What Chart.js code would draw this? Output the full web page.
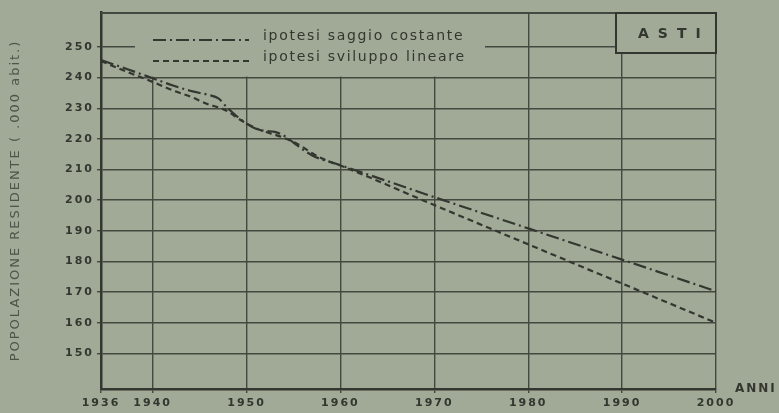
<!DOCTYPE html>
<html>
<head>
<meta charset="utf-8">
<script src="https://cdn.jsdelivr.net/npm/chart.js@4.4.1/dist/chart.umd.min.js"></script>
<style>
  html, body { margin: 0; padding: 0; background: #a1a997; }
  #wrap { width: 779px; height: 413px; position: relative; }
</style>
</head>
<body>
<div id="wrap"><canvas id="grafico"></canvas></div>
<script>
const SFONDO = '#a1a997';
const INCHIOSTRO = '#33372f';
const GRIGLIA = '#444940';
const FONT = "'DejaVu Sans', sans-serif";

// anni delle osservazioni / proiezioni
const anni = [1936, 1938, 1940, 1942, 1944, 1946, 1947, 1948, 1949, 1950, 1951, 1952,
  1953, 1954, 1955, 1956, 1957, 1958, 1959, 1960, 1970, 1980, 1990, 2000];

// popolazione residente (migliaia di abitanti)
const saggioCostante = [245.7, 242.8, 239.8, 237.6, 235.7, 234.3, 233.2, 230.0, 227.3, 225.0, 223.3, 222.6,
  222.3, 221.0, 218.8, 216.5, 214.6, 213.3, 212.4, 211.4, 201.0, 190.8, 180.6, 170.3];
const sviluppoLineare = [245.4, 241.9, 238.6, 236.0, 233.8, 231.2, 230.3, 229.0, 226.9, 225.0, 223.5, 222.3,
  221.4, 220.3, 219.0, 217.3, 215.3, 213.7, 212.4, 211.3, 198.4, 185.6, 172.8, 160.0];

const tickAnni = [1936, 1940, 1950, 1960, 1970, 1980, 1990, 2000];
const tickPop = [150, 160, 170, 180, 190, 200, 210, 220, 230, 240, 250];

// asse degli anni: il primo intervallo (1936-1940) e' disegnato allargato come nell'originale
class AnniScale extends Chart.LinearScale {
  getPixelForValue(value) {
    const rif = tickAnni[1];
    if (value < rif) {
      const p = super.getPixelForValue(rif);
      return this.left + (value - tickAnni[0]) / (rif - tickAnni[0]) * (p - this.left);
    }
    return super.getPixelForValue(value);
  }
}
AnniScale.id = 'anni';
AnniScale.defaults = Chart.LinearScale.defaults;
Chart.register(AnniScale);

const cornice = {
  id: 'cornice',
  beforeDraw(chart) {
    chart.ctx.letterSpacing = '2px';
  },
  beforeDatasetsDraw(chart) {
    const { ctx, chartArea: a, scales } = chart;
    const y240 = scales.y.getPixelForValue(240);
    ctx.save();
    // fondo della legenda
    ctx.fillStyle = SFONDO;
    ctx.fillRect(a.left + 34, a.top, 350, y240 - a.top - 1);
    // bordo superiore
    ctx.strokeStyle = GRIGLIA;
    ctx.lineWidth = 2;
    ctx.beginPath();
    ctx.moveTo(a.left, a.top + 1);
    ctx.lineTo(a.right, a.top + 1);
    ctx.stroke();
    // riquadro ASTI
    ctx.fillStyle = SFONDO;
    ctx.fillRect(a.right - 100, a.top, 100, 41);
    ctx.strokeStyle = INCHIOSTRO;
    ctx.strokeRect(a.right - 100, a.top + 1, 100, 40);
    ctx.fillStyle = INCHIOSTRO;
    ctx.font = `bold 14px ${FONT}`;
    ctx.letterSpacing = '9px';
    ctx.textAlign = 'left';
    ctx.textBaseline = 'middle';
    ctx.fillText('ASTI', a.right - 78, a.top + 22);
    // legenda
    ctx.letterSpacing = '1.7px';
    ctx.font = `14px ${FONT}`;
    const righe = [a.top + 27, a.top + 48];
    chart.data.datasets.forEach((ds, i) => {
      const y = righe[i];
      ctx.save();
      ctx.strokeStyle = ds.borderColor;
      ctx.lineWidth = ds.borderWidth;
      ctx.setLineDash(ds.borderDash);
      ctx.beginPath();
      ctx.moveTo(a.left + 52, y + 1);
      ctx.lineTo(a.left + 148, y + 1);
      ctx.stroke();
      ctx.restore();
      ctx.fillText(ds.label, a.left + 162, y - 3);
    });
    // ANNI
    ctx.font = `bold 12px ${FONT}`;
    ctx.letterSpacing = '2px';
    ctx.fillText('ANNI', a.right + 19, a.bottom);
    ctx.restore();
  },
};

new Chart(document.getElementById('grafico'), {
  type: 'line',
  data: {
    datasets: [
      {
        label: 'ipotesi saggio costante',
        data: anni.map((x, i) => ({ x, y: saggioCostante[i] })),
        borderColor: INCHIOSTRO,
        borderWidth: 2.2,
        borderDash: [13, 4, 2, 4],
        pointRadius: 0,
        cubicInterpolationMode: 'monotone',
      },
      {
        label: 'ipotesi sviluppo lineare',
        data: anni.map((x, i) => ({ x, y: sviluppoLineare[i] })),
        borderColor: INCHIOSTRO,
        borderWidth: 2.2,
        borderDash: [6, 4],
        pointRadius: 0,
        cubicInterpolationMode: 'monotone',
      },
    ],
  },
  options: {
    responsive: true,
    maintainAspectRatio: false,
    animation: false,
    layout: { padding: { top: 12, right: 63, bottom: 0, left: 0 } },
    plugins: { legend: { display: false }, tooltip: { enabled: false } },
    scales: {
      x: {
        type: 'anni',
        min: 1934.5,
        max: 2000,
        afterBuildTicks: (s) => { s.ticks = tickAnni.map((v) => ({ value: v })); },
        afterFit: (s) => { s.height = 24; },
        grid: { color: GRIGLIA, lineWidth: 1.4, tickLength: 4 },
        border: { color: INCHIOSTRO, width: 2.5 },
        ticks: { color: INCHIOSTRO, padding: 4, maxRotation: 0, autoSkip: false,
          font: { family: FONT, size: 11, weight: 'bold' }, callback: (v) => String(v) },
      },
      y: {
        min: 138.4,
        max: 261.4,
        afterBuildTicks: (s) => { s.ticks = tickPop.map((v) => ({ value: v })); },
        afterFit: (s) => { s.width = 101; },
        grid: { color: GRIGLIA, lineWidth: 1.4, tickLength: 4 },
        border: { color: INCHIOSTRO, width: 2.5 },
        ticks: { color: INCHIOSTRO, padding: 3, font: { family: FONT, size: 11, weight: 'bold' } },
        title: {
          display: true,
          text: 'POPOLAZIONE RESIDENTE ( .000 abit.)',
          color: '#4f544b',
          font: { family: FONT, size: 13 },
          padding: { top: 8, bottom: 0 },
        },
      },
    },
  },
  plugins: [cornice],
});
</script>
</body>
</html>
